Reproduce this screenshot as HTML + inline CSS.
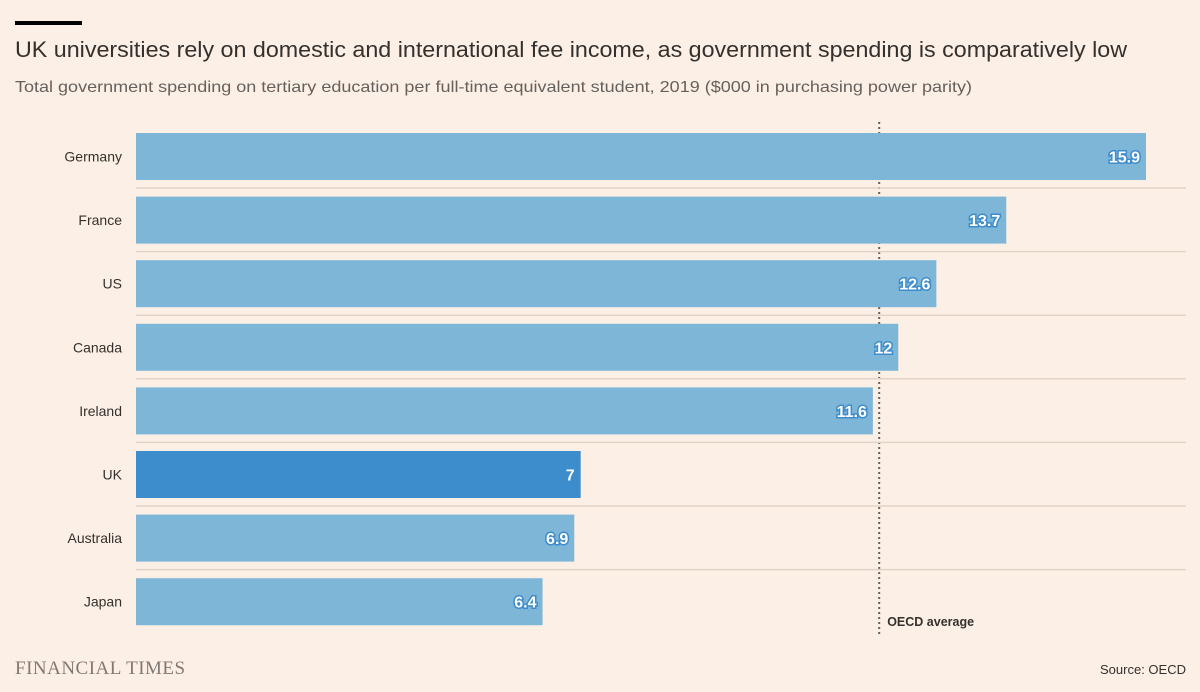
<!DOCTYPE html>
<html><head><meta charset="utf-8"><style>
body{margin:0;background:#fcf0e6;}
svg{display:block;font-family:"Liberation Sans","DejaVu Sans",sans-serif;}
</style></head><body>
<svg id="chart" width="1200" height="692" viewBox="0 0 1200 692">
<rect x="0" y="0" width="1200" height="692" fill="#fcf0e6"/>
<rect x="15" y="21" width="67" height="4" fill="#000"/>
<text x="15" y="57" font-size="22" fill="#33302e" textLength="1112" lengthAdjust="spacingAndGlyphs">UK universities rely on domestic and international fee income, as government spending is comparatively low</text>
<text x="15" y="92" font-size="16" fill="#66605c" textLength="957" lengthAdjust="spacingAndGlyphs">Total government spending on tertiary education per full-time equivalent student, 2019 ($000 in purchasing power parity)</text>
<g id="bars"></g>
<text x="15" y="674" font-size="19" font-family="Liberation Serif, serif" fill="#807973" letter-spacing="0.5">FINANCIAL TIMES</text>
<text x="1186" y="674" font-size="13" fill="#33302e" text-anchor="end">Source: OECD</text>
</svg>
<script>
const categories = ["Germany","France","US","Canada","Ireland","UK","Australia","Japan"];
const values = [15.9,13.7,12.6,12,11.6,7,6.9,6.4];
const valueLabels = ["15.9","13.7","12.6","12","11.6","7","6.9","6.4"];
const highlight = "UK";
const oecdAverage = 11.7;

const NS="http://www.w3.org/2000/svg";
const g=document.getElementById("bars");
const x0=136, pxPer=(1146-136)/15.9;
const xScale=v=>x0+v*pxPer;
const top0=133, pitch=63.6, barH=47;
const yScale=i=>top0+i*pitch;
function mk(t,a){const e=document.createElementNS(NS,t);for(const k in a)e.setAttribute(k,a[k]);return e;}
const ox=xScale(oecdAverage);
const ol=mk("line",{x1:ox,x2:ox,y1:122,y2:634,stroke:"#66605c","stroke-width":2,"stroke-dasharray":"2 3"});


g.appendChild(ol);
categories.forEach((c,i)=>{
  const y=yScale(i);
  const sep=mk("line",{x1:x0,x2:1186,y1:y+barH+8,y2:y+barH+8,stroke:"#e3d3c6","stroke-width":1.5});
  
  
  if(i<categories.length-1) g.appendChild(sep);
  const r=mk("rect",{x:x0,y:y,width:xScale(values[i])-x0,height:barH,fill:c===highlight?"#3d8ccc":"#7eb6d8"});
  
  
  g.appendChild(r);
  const l=mk("text",{x:122,y:y+barH/2+5,"font-size":14,fill:"#33302e","text-anchor":"end"});
  l.textContent=c;
  
  
  g.appendChild(l);
  const v=mk("text",{x:xScale(values[i])-6,y:y+barH/2+6,"font-size":16,"font-weight":"bold",fill:"#fff","text-anchor":"end",stroke:"#3d8ccc","stroke-width":3,"paint-order":"stroke"});
  v.textContent=valueLabels[i];
  
  
  g.appendChild(v);
});
const ot=mk("text",{x:ox+8,y:626,"font-size":12.5,"font-weight":"bold",fill:"#33302e"});
ot.textContent="OECD average";


g.appendChild(ot);
</script>
</body></html>
